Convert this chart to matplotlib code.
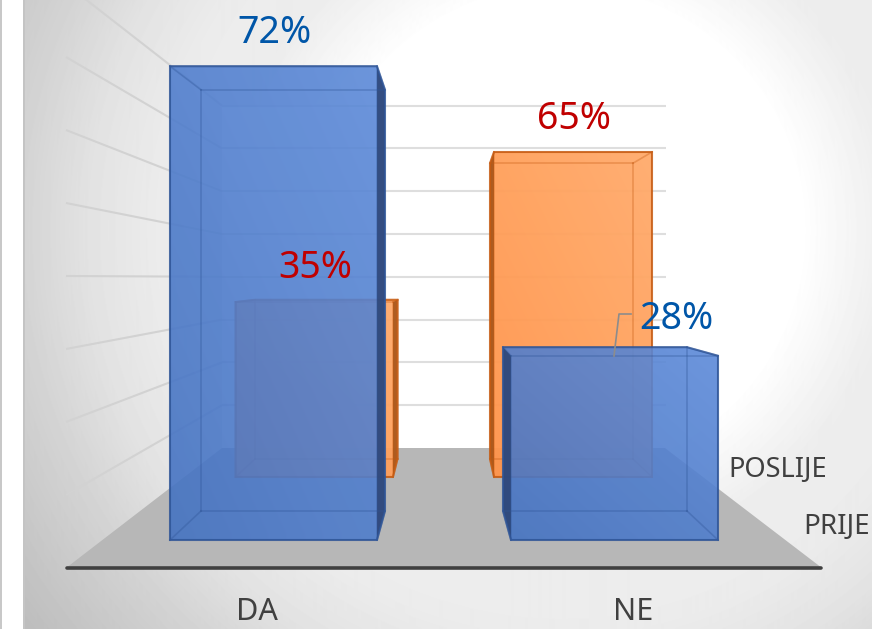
import numpy as np
import matplotlib
matplotlib.use("Agg")
import matplotlib.pyplot as plt
from matplotlib.patches import Polygon, Rectangle

plt.rcParams["font.family"] = ["Noto Sans", "DejaVu Sans"]

categories = ["DA", "NE"]
series = ["PRIJE", "POSLIJE"]
prije = [72, 28]
poslije = [35, 65]
grid_vals = [10, 20, 30, 40, 50, 60, 70, 80]

BLUE_TEXT = "#0056a8"
RED_TEXT = "#c00000"
W, H = 872, 629

fig = plt.figure(figsize=(W / 100, H / 100), dpi=100)
ax = fig.add_axes([0, 0, 1, 1])
ax.set_xlim(0, W)
ax.set_ylim(H, 0)
ax.axis("off")

# background, radial grey
yy, xx = np.mgrid[0:H, 0:W]
r = np.hypot(xx - 560, yy - 230)
bg = np.interp(r, [240, 330, 400, 470, 540, 668, 760], [1.0, 0.93, 0.925, 0.89, 0.83, 0.74, 0.73])
ax.imshow(bg, cmap="gray", vmin=0, vmax=1, extent=(0, W, H, 0), aspect="auto", zorder=0)
ax.add_patch(Rectangle((0, 0), 23, H, fc="white", ec="none", zorder=1))
ax.add_patch(Rectangle((0, 0), 2, H, fc="#c8c8c8", ec="none", zorder=1))
ax.add_patch(Rectangle((22.5, 0), 2, H, fc="#c4c4c4", ec="none", zorder=1))

# back wall, floor, grid
ax.add_patch(Rectangle((222, 105), 444, 343, fc="white", ec="none", zorder=1))
ax.add_patch(Polygon([(66, 568), (822, 568), (665, 448), (222, 448)], fc="#b7b7b7", ec="none", zorder=2))
for v in grid_vals:
    wall_y = 448 - v * 4.28
    left_y = 568 - v * 7.3
    ax.plot([66, 222], [left_y, wall_y], color="#d2d2d2", lw=1.5, zorder=2, solid_capstyle="butt")
    ax.plot([222, 666], [wall_y, wall_y], color="#dedede", lw=1.5, zorder=2, solid_capstyle="butt")
ax.plot([67, 821], [568, 568], color="#404040", lw=2.6, solid_capstyle="round", zorder=3)


def hull(pts):
    pts = sorted(set(pts))

    def half(seq):
        out = []
        for p in seq:
            while len(out) > 1 and ((out[-1][0] - out[-2][0]) * (p[1] - out[-2][1])
                                    - (out[-1][1] - out[-2][1]) * (p[0] - out[-2][0])) <= 0:
                out.pop()
            out.append(p)
        return out[:-1]

    return half(pts) + half(pts[::-1])


def gradient_fill(outline, c_light, c_dark, alpha, z):
    # lighter at the top right, darker at the bottom left
    xs = [p[0] for p in outline]
    ys = [p[1] for p in outline]
    gy, gx = np.mgrid[0:1:40j, 0:1:40j]
    t = (gx * 0.5 + (1 - gy) * 0.5)[..., None]
    rgba = np.dstack([np.array(c_dark) * (1 - t) + np.array(c_light) * t, np.full(gx.shape, alpha)])
    im = ax.imshow(rgba, extent=(min(xs), max(xs), max(ys), min(ys)), aspect="auto",
                   interpolation="bilinear", zorder=z)
    clip = Polygon(outline, transform=ax.transData)
    im.set_clip_path(clip)


def bar3d(value, front_x, back_x, front_base, front_scale, back_base, back_scale,
          c_light, c_dark, alpha, side_color, edge, z):
    fl, fr = front_x
    bl, br = back_x
    ft = front_base - value * front_scale
    bt = back_base - value * back_scale
    outline = hull([(fl, ft), (fr, ft), (fr, front_base), (fl, front_base),
                    (bl, bt), (br, bt), (br, back_base), (bl, back_base)])
    gradient_fill(outline, c_light, c_dark, alpha, z)
    # the dark side face is on whichever side the back sticks out
    if br > fr:
        side = [(fr, ft), (br, bt), (br, back_base), (fr, front_base)]
    else:
        side = [(fl, ft), (bl, bt), (bl, back_base), (fl, front_base)]
    ax.add_patch(Polygon(side, fc=side_color, ec="none", alpha=0.85, zorder=z + 0.1))
    # inner edges are faint, the outline is stronger
    for a, b in [((fl, ft), (fr, ft)), ((fr, ft), (fr, front_base)), ((fr, front_base), (fl, front_base)),
                 ((fl, front_base), (fl, ft)), ((bl, bt), (br, bt)), ((br, bt), (br, back_base)),
                 ((br, back_base), (bl, back_base)), ((bl, back_base), (bl, bt)),
                 ((fl, ft), (bl, bt)), ((fr, ft), (br, bt)), ((fr, front_base), (br, back_base)),
                 ((fl, front_base), (bl, back_base))]:
        ax.plot([a[0], b[0]], [a[1], b[1]], color=edge, lw=1.2, alpha=0.35, zorder=z + 0.2)
    ax.add_patch(Polygon(outline, fc="none", ec=edge, lw=1.5, alpha=0.8, zorder=z + 0.3))


ORANGE = dict(front_base=477, front_scale=5.0, back_base=459, back_scale=4.55,
              c_light=(1.0, 0.67, 0.42), c_dark=(1.0, 0.58, 0.29), alpha=0.95,
              side_color="#a04f14", edge="#c55a11")
BLUE = dict(front_base=540, front_scale=6.58, back_base=511, back_scale=5.85,
            c_light=(0.36, 0.54, 0.85), c_dark=(0.27, 0.45, 0.76), alpha=0.9,
            side_color="#2b4272", edge="#2f5597")

bar3d(poslije[0], (235.5, 393), (255, 397.5), z=4, **ORANGE)
bar3d(poslije[1], (494, 652), (490, 633), z=4, **ORANGE)
bar3d(prije[0], (170, 377), (201, 385), z=5, **BLUE)
bar3d(prije[1], (511, 718), (503, 687), z=5, **BLUE)

# leader for the 28% label
ax.plot([614, 619, 631], [356, 314, 314], color="#8c8c8c", lw=1.2, zorder=6)

value_font = dict(fontsize=27, ha="center", va="center", zorder=7)
ax.text(274, 33, f"{prije[0]}%", color=BLUE_TEXT, **value_font)
ax.text(676, 319, f"{prije[1]}%", color=BLUE_TEXT, **value_font)
ax.text(315, 268, f"{poslije[0]}%", color=RED_TEXT, **value_font)
ax.text(574, 119, f"{poslije[1]}%", color=RED_TEXT, **value_font)

ax.text(257, 612, categories[0], fontsize=22, color="#404040", ha="center", va="center", zorder=7)
ax.text(633, 612, categories[1], fontsize=22, color="#404040", ha="center", va="center", zorder=7)
ax.text(778, 470, series[1], fontsize=19.6, color="#404040", ha="center", va="center", zorder=7)
ax.text(836.5, 527, series[0], fontsize=20, color="#404040", ha="center", va="center", zorder=7)

ax.set_xlim(0, W)
ax.set_ylim(H, 0)
fig.savefig("out.png", dpi=100)
